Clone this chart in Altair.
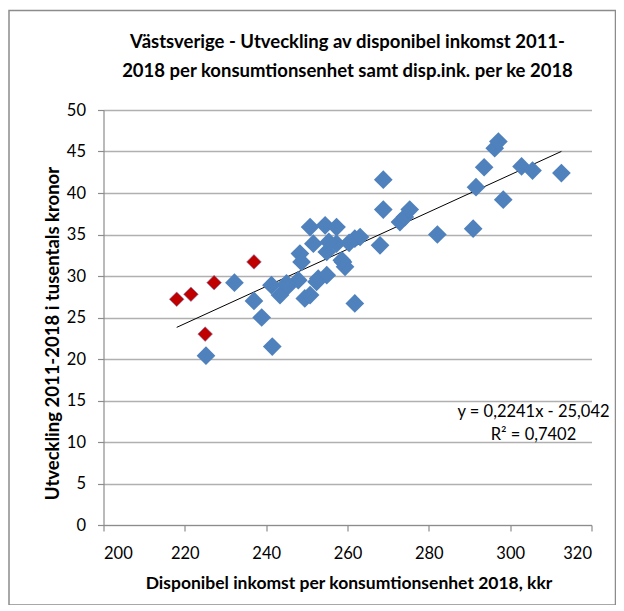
import altair as alt
import pandas as pd

# Blue points (municipalities)
blue_x = [232.2, 237.0, 238.9, 225.2, 241.5, 241.3, 243.4, 245.4, 247.9, 248.3,
          248.7, 249.5, 250.8, 250.8, 251.6, 252.8, 254.9, 254.5, 254.9, 257.3,
          257.3, 258.9, 259.4, 261.8, 261.8, 263.1, 268.0, 268.8, 268.8, 272.9,
          274.1, 275.3, 282.1, 290.9, 291.6, 293.6, 296.2, 297.1, 298.3, 302.8,
          305.5, 312.6, 255.4, 260.4, 245.0, 252.4, 258.6]
blue_y = [29.2, 27.0, 25.0, 20.4, 21.5, 28.9, 27.7, 28.8, 29.5, 32.7,
          31.7, 27.3, 27.7, 35.9, 33.9, 29.7, 30.1, 36.1, 32.9, 35.9,
          33.9, 31.7, 31.1, 26.7, 34.5, 34.7, 33.7, 38.0, 41.6, 36.5,
          37.1, 38.0, 35.0, 35.7, 40.7, 43.1, 45.4, 46.2, 39.2, 43.2,
          42.7, 42.4, 34.1, 34.0, 29.1, 29.3, 31.9]

# Red points
red_x = [218.0, 221.5, 227.2, 237.0, 225.0]
red_y = [27.2, 27.8, 29.2, 31.7, 23.0]

# Trend line (from equation shown in chart)
slope = 0.2241
intercept = -25.042
eq_lines = ["y = 0,2241x - 25,042", "R² = 0,7402"]

title_lines = ["Västsverige - Utveckling av disponibel inkomst 2011-",
               "2018 per konsumtionsenhet samt disp.ink. per ke 2018"]
x_title = "Disponibel inkomst per konsumtionsenhet 2018, kkr"
y_title = "Utveckling 2011-2018 i tusentals kronor"

FONT = "Lato"

df_blue = pd.DataFrame({"x": blue_x, "y": blue_y})
df_red = pd.DataFrame({"x": red_x, "y": red_y})
all_x = blue_x + red_x
xmin, xmax = min(all_x), max(all_x)
df_trend = pd.DataFrame({"x": [xmin, xmax],
                         "y": [slope * xmin + intercept, slope * xmax + intercept]})

xscale = alt.Scale(domain=[200, 320], nice=False, zero=False)
yscale = alt.Scale(domain=[0, 50], nice=False)

xaxis = alt.Axis(values=[200, 220, 240, 260, 280, 300, 320], grid=False,
                 title=x_title, tickSize=6, labelPadding=14, titleFontSize=17.5,
                 titleX=245, titleY=58, titleBaseline="middle", titleAlign="center")
yaxis = alt.Axis(values=list(range(0, 51, 5)), grid=True,
                 title=y_title, tickSize=6, labelPadding=12, titleFontSize=18.5,
                 titleX=-51, titleY=223, titleAlign="center", titleBaseline="middle",
                 titleAngle=-90)

base = alt.Chart(pd.DataFrame({"a": [0]}))

frame = base.mark_rect(fill=None, stroke="#8c8c8c", strokeWidth=1.5).encode(
    x=alt.value(-94.5), x2=alt.value(512), y=alt.value(-99.5), y2=alt.value(495)
)

title1 = base.mark_text(font=FONT, fontSize=18.5, fontWeight="bold", color="#000000",
                        align="center", baseline="middle", text=title_lines[0]).encode(
    x=alt.value(244), y=alt.value(-68))
title2 = base.mark_text(font=FONT, fontSize=18.5, fontWeight="bold", color="#000000",
                        align="center", baseline="middle", text=title_lines[1]).encode(
    x=alt.value(244), y=alt.value(-39))

blue = alt.Chart(df_blue).mark_point(
    shape="diamond", filled=True, size=350, color="#4F81BD", opacity=1
).encode(
    x=alt.X("x:Q", scale=xscale, axis=xaxis),
    y=alt.Y("y:Q", scale=yscale, axis=yaxis),
)

red = alt.Chart(df_red).mark_point(
    shape="diamond", filled=True, size=215, color="#C00000", opacity=1,
    stroke="#7f7fb0", strokeWidth=0.6
).encode(x=alt.X("x:Q", scale=xscale), y=alt.Y("y:Q", scale=yscale))

trend = alt.Chart(df_trend).mark_line(color="#000000", strokeWidth=1).encode(
    x=alt.X("x:Q", scale=xscale), y=alt.Y("y:Q", scale=yscale)
)

eq1 = base.mark_text(font=FONT, fontSize=16.5, color="#000000", align="center",
                     baseline="middle", text=eq_lines[0]).encode(
    x=alt.value(430), y=alt.value(302))
eq2 = base.mark_text(font=FONT, fontSize=16.5, color="#000000", align="center",
                     baseline="middle", text=eq_lines[1]).encode(
    x=alt.value(430), y=alt.value(325))

chart = alt.layer(frame, title1, title2, trend, blue, red, eq1, eq2).properties(
    width=488, height=415,
    autosize=alt.AutoSizeParams(type="none"),
    padding={"left": 95.5, "top": 102, "right": 24, "bottom": 80},
).configure_view(stroke=None).configure_axis(
    labelFont=FONT, labelFontSize=16.5, labelColor="#000000",
    titleFont=FONT, titleFontWeight="bold", titleColor="#000000",
    domainColor="#8c8c8c", domainWidth=1.2, tickColor="#8c8c8c", tickWidth=1.2,
    gridColor="#b0b0b0", gridWidth=1.5,
)

chart.save("out.html", embed_options={"renderer": "svg", "actions": False})
